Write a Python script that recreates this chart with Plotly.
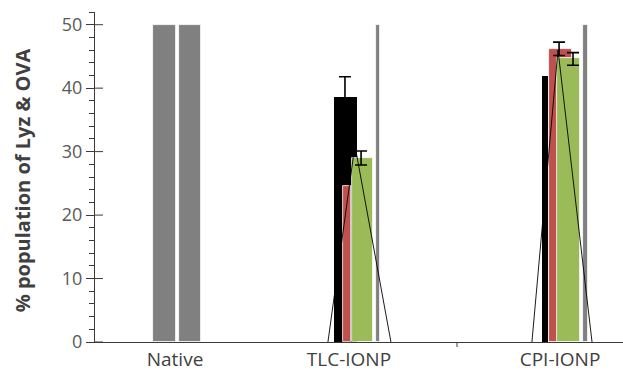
import plotly.graph_objects as go

# Category labels and where they sit on the numeric x axis
categories = ["Native", "TLC-IONP", "CPI-IONP"]
label_pos = [0.442, 1.403, 2.569]
group_boundary = [2.0]

# Reference (gray) bars: two for Native, one thin bar in each IONP group
gray_x = [0.384, 0.525, 1.564, 2.710]
gray_w = [0.127, 0.122, 0.025, 0.028]
gray_vals = [50, 50, 50, 50]

# Black series (TLC-IONP, CPI-IONP)
black_x = [1.384, 2.486]
black_w = [0.127, 0.033]
black_vals = [38.6, 41.9]

# Red series
red_x = [1.392, 2.572]
red_w = [0.044, 0.127]
red_vals = [24.6, 46.2]

# Green series
green_x = [1.478, 2.616]
green_w = [0.116, 0.127]
green_vals = [29.0, 44.7]

# Error bars (mean +/- sd) drawn at their own x positions
err_x = [1.381, 1.470, 2.564, 2.641]
err_mean = [38.6, 29.0, 46.2, 44.6]
err_sd = [3.2, 1.1, 1.05, 1.0]

# Thin connecting line, one peak per IONP group (None breaks the line)
line_x = [1.287, 1.436, 1.635, None, 2.414, 2.558, 2.746]
line_vals = [0, 31, 0, None, 0, 46, 0]

y_title = "% population of Lyz & OVA"
major_ticks = [0, 10, 20, 30, 40, 50]
X_RANGE = [0, 528 / 181]
Y_RANGE = [0, 52]
PLOT_W, PLOT_H = 528, 330

FONT = "Open Sans"
AXIS_COLOR = "#3a3a3a"
outline = dict(color="white", width=0.8)

fig = go.Figure()
fig.add_trace(go.Bar(x=gray_x, y=gray_vals, width=gray_w,
                     marker=dict(color="#808080", line=outline)))
fig.add_trace(go.Bar(x=black_x, y=black_vals, width=black_w,
                     marker=dict(color="#000000", line=dict(width=0))))
fig.add_trace(go.Bar(x=red_x, y=red_vals, width=red_w,
                     marker=dict(color="#C0504D", line=outline)))
fig.add_trace(go.Bar(x=green_x, y=green_vals, width=green_w,
                     marker=dict(color="#9BBB59", line=outline)))
fig.add_trace(go.Scatter(
    x=err_x, y=err_mean, mode="markers",
    marker=dict(size=1, color="rgba(0,0,0,0)"),
    error_y=dict(type="data", array=err_sd, color="#000000",
                 thickness=1.6, width=6)))
fig.add_trace(go.Scatter(x=line_x, y=line_vals, mode="lines",
                         connectgaps=False,
                         line=dict(color="#000000", width=0.9)))

# Inner half of the major y ticks, so they cross the axis line
for v in major_ticks:
    fig.add_shape(type="line", xref="paper", yref="y",
                  x0=0, x1=8 / PLOT_W, y0=v, y1=v,
                  line=dict(color=AXIS_COLOR, width=1), layer="above")
# Divider tick between the IONP groups on the x axis
for b in group_boundary:
    fig.add_shape(type="line", xref="x", yref="paper",
                  x0=b, x1=b, y0=0, y1=-5 / PLOT_H,
                  line=dict(color=AXIS_COLOR, width=1), layer="above")

# Y-axis title as rotated text left of the tick labels
fig.add_annotation(text="<b>" + y_title + "</b>", xref="paper", yref="paper",
                   x=-73 / PLOT_W, y=0.49, textangle=-90, showarrow=False,
                   xanchor="center", yanchor="middle",
                   font=dict(family=FONT, size=20, color="#404040"))

fig.update_layout(
    width=623, height=372,
    margin=dict(l=95, r=0, t=12, b=30),
    paper_bgcolor="white", plot_bgcolor="white",
    barmode="overlay", bargap=0, showlegend=False,
    font=dict(family=FONT, color="#404040"),
    xaxis=dict(
        range=X_RANGE, showgrid=False, zeroline=False,
        showline=True, linecolor=AXIS_COLOR, linewidth=1,
        tickmode="array", tickvals=label_pos, ticktext=categories,
        ticks="", tickfont=dict(size=19, color="#404040"),
    ),
    yaxis=dict(
        range=Y_RANGE, showgrid=False, zeroline=False,
        showline=True, linecolor=AXIS_COLOR, linewidth=1,
        tickmode="linear", dtick=10,
        ticks="outside", ticklen=8, tickwidth=1, tickcolor=AXIS_COLOR,
        minor=dict(dtick=2, ticks="outside", ticklen=5,
                   tickwidth=1, tickcolor=AXIS_COLOR),
        tickfont=dict(size=18, color="#595959"),
    ),
)

fig.write_html("out.html")
